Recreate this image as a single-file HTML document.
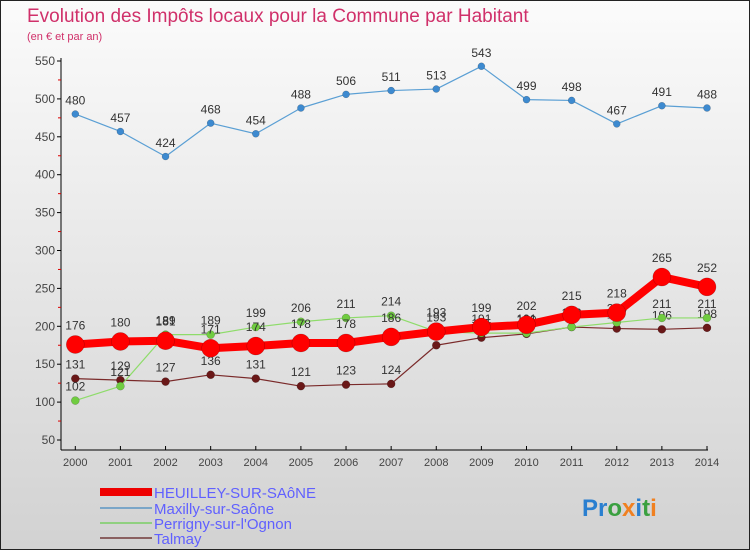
<!DOCTYPE html>
<html><head><meta charset="utf-8"><style>
body{margin:0;width:750px;height:550px;overflow:hidden;font-family:"Liberation Sans",sans-serif}
</style></head><body>
<svg id="c" width="750" height="550" xmlns="http://www.w3.org/2000/svg">
<defs><linearGradient id="bg" x1="0" y1="0" x2="0" y2="1"><stop offset="0" stop-color="#fbfbfb"/><stop offset="1" stop-color="#d2d2d2"/></linearGradient></defs>
<rect x="0.5" y="0.5" width="749" height="549" fill="url(#bg)" stroke="#222"/>
<text x="27" y="22" font-size="19" fill="#d0306a">Evolution des Impôts locaux pour la Commune par Habitant</text>
<text x="27" y="40" font-size="11" fill="#d0306a">(en € et par an)</text>
<g id="axes"></g><g id="series"></g>
<g font-size="15" fill="#6060ff">
<rect x="100" y="488" width="52" height="8" fill="#e00"/>
<text x="154" y="498">HEUILLEY-SUR-SAôNE</text>
<line x1="100" y1="508" x2="152" y2="508" stroke="#7aa6c8" stroke-width="2"/>
<text x="154" y="514">Maxilly-sur-Saône</text>
<line x1="100" y1="523" x2="152" y2="523" stroke="#90d080" stroke-width="2"/>
<text x="154" y="529">Perrigny-sur-l'Ognon</text>
<line x1="100" y1="538" x2="152" y2="538" stroke="#8a6060" stroke-width="2"/>
<text x="154" y="544">Talmay</text>
</g>
<text x="582" y="516" font-size="24" font-weight="bold"><tspan fill="#2a7fd0">Pr</tspan><tspan fill="#3aa040">o</tspan><tspan fill="#f08020">x</tspan><tspan fill="#2a7fd0">i</tspan><tspan fill="#3aa040">t</tspan><tspan fill="#f08020">i</tspan></text>
</svg>
<script>
const years=[2000,2001,2002,2003,2004,2005,2006,2007,2008,2009,2010,2011,2012,2013,2014];
const heuilley=[176,180,181,171,174,178,178,186,193,199,202,215,218,265,252];
const maxilly=[480,457,424,468,454,488,506,511,513,543,499,498,467,491,488];
const perrigny=[102,121,189,189,199,206,211,214,193,191,191,199,205,211,211];
const talmay=[131,129,127,136,131,121,123,124,175,185,190,199,197,196,198];
const yTicks=[50,100,150,200,250,300,350,400,450,500,550];
const NS="http://www.w3.org/2000/svg";
const X=i=>75.3+i*(707-75.3)/(years.length-1);
const Y=v=>440-(v-50)*(379/500);
function mk(p,t,a){const e=document.createElementNS(NS,t);for(const k in a)e.setAttribute(k,a[k]);p.appendChild(e);return e;}
const ax=document.getElementById('axes'),sg=document.getElementById('series');
let l=mk(ax,'line',{x1:61,y1:58,x2:61,y2:450,stroke:'#000'});


l=mk(ax,'line',{x1:61,y1:450,x2:708,y2:450,stroke:'#000'});


yTicks.forEach((v,i)=>{
 mk(ax,'line',{x1:57,y1:Y(v),x2:61,y2:Y(v),stroke:'#000'});
 if(i<yTicks.length-1)mk(ax,'line',{x1:58,y1:Y(v+25),x2:61,y2:Y(v+25),stroke:'#d00'});
 const t=mk(ax,'text',{x:55,y:Y(v)+4,'font-size':12,'text-anchor':'end',fill:'#444'});t.textContent=v;
 
 
});
years.forEach((y,i)=>{
 mk(ax,'line',{x1:X(i),y1:446,x2:X(i),y2:450,stroke:'#000'});
 const t=mk(ax,'text',{x:X(i),y:466,'font-size':11,'text-anchor':'middle',fill:'#444'});t.textContent=y;
 
 
});
function series(d,name,col,w,r,ptcol){
 const g=mk(sg,'g',{});
 
 
 const p=mk(g,'polyline',{points:d.map((v,i)=>X(i)+','+Y(v)).join(' '),fill:'none',stroke:col,'stroke-width':w,'stroke-linejoin':'round'});
 
 
 d.forEach((v,i)=>{
  const c=mk(g,'circle',{cx:X(i),cy:Y(v),r:r,fill:ptcol,stroke:'rgba(0,0,0,0.3)','stroke-width':0.5});
  
  
  const t=mk(g,'text',{x:X(i),y:Y(v)-r-6,'font-size':12,'text-anchor':'middle',fill:'#333'});t.textContent=v;
  
  
 });
}
series(maxilly,'maxilly','#5a9fd4',1.2,3.5,'#3d8ad0');
series(talmay,'talmay','#7a2a2a',1.2,4,'#6a1818');
series(perrigny,'perrigny','#8edc6a',1.2,4,'#70cc40');
series(heuilley,'heuilley','#f00',8,9,'#f00');
</script>
</body></html>
